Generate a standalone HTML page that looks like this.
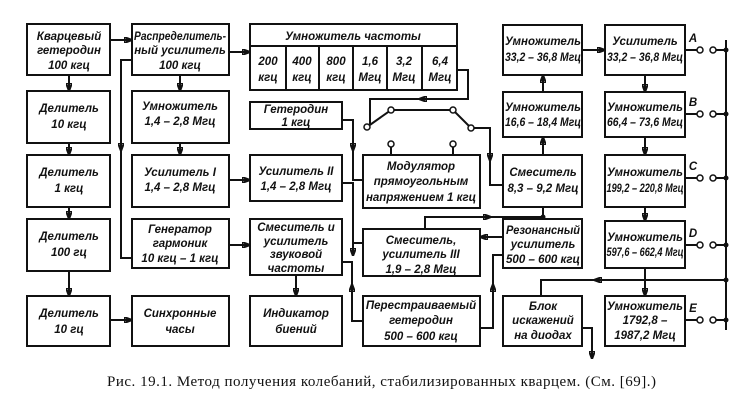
<!DOCTYPE html>
<html><head><meta charset="utf-8"><style>
body{margin:0;background:#fff}
svg{display:block}
text{font-family:"Liberation Sans","DejaVu Sans",sans-serif;font-style:italic;font-weight:bold;font-size:11.5px;fill:#111;text-anchor:middle}
.c{font-family:"Liberation Serif",serif;font-style:normal;font-weight:normal;font-size:15px;text-anchor:start}
rect{fill:#fff;stroke:#111;stroke-width:2}
line,polyline,path{stroke:#111;stroke-width:2;fill:none}
.ci{fill:#fff;stroke:#111;stroke-width:1.5}
</style></head><body>
<svg width="749" height="420" viewBox="0 0 749 420">
<defs><marker id="a" markerWidth="8" markerHeight="6" refX="7" refY="3" orient="auto" markerUnits="userSpaceOnUse"><path d="M0,0 L8,3 L0,6z" fill="#111" stroke="none"/></marker></defs>
<g marker-end="url(#a)">
<line x1="110" y1="40" x2="131" y2="40"/>
<line x1="69" y1="75" x2="69" y2="90"/>
<line x1="69" y1="143" x2="69" y2="154"/>
<line x1="69" y1="207" x2="69" y2="218"/>
<line x1="69" y1="271" x2="69" y2="295"/>
<line x1="110" y1="320" x2="131" y2="320"/>
<line x1="229" y1="52" x2="249" y2="52"/>
<line x1="180" y1="75" x2="180" y2="90"/>
<line x1="180" y1="143" x2="180" y2="154"/>
<line x1="229" y1="180" x2="249" y2="180"/>
<line x1="229" y1="245" x2="249" y2="245"/>
<line x1="296" y1="275" x2="296" y2="295"/>
<polyline points="132,60 121,60 121,150"/>
<polyline points="342,120 353,120 353,150"/>
<polyline points="342,183 353,183 353,255"/>
<polyline points="363,321 352,321 352,285"/>
<polyline points="457,70 468,70 468,99 420,99"/>
<polyline points="471,128 490,128 490,160"/>
<polyline points="425,229 425,217 490,217"/>
<line x1="503" y1="237" x2="481" y2="237"/>
<polyline points="480,328 493,328 493,285"/>
<line x1="543" y1="155" x2="543" y2="138"/>
<line x1="543" y1="92" x2="543" y2="76"/>
<line x1="582" y1="50" x2="604" y2="50"/>
<line x1="645" y1="75" x2="645" y2="91"/>
<line x1="645" y1="137" x2="645" y2="154"/>
<line x1="645" y1="207" x2="645" y2="220"/>
<line x1="645" y1="268" x2="645" y2="295"/>
<line x1="700" y1="280" x2="595" y2="280"/>
<polyline points="582,328 592,328 592,358"/>
</g>
<polyline points="121,150 121,258 132,258"/>
<polyline points="353,150 353,180 363,180"/>
<polyline points="353,255 353,243 363,243"/>
<polyline points="352,285 352,262 342,262"/>
<polyline points="420,99 370,99 370,124"/>
<polyline points="367,127 391,110 453,110 471,128"/>
<polyline points="490,160 490,185 503,185"/>
<polyline points="490,217 543,217"/>
<line x1="543" y1="207" x2="543" y2="219"/>
<polyline points="493,285 493,255 503,255"/>
<polyline points="595,280 541,280 541,296"/>
<line x1="700" y1="280" x2="726" y2="280"/>
<line x1="391" y1="147" x2="391" y2="155"/><line x1="453" y1="147" x2="453" y2="155"/>
<line x1="726" y1="40" x2="726" y2="330"/>
<g>
<line x1="685" y1="50" x2="697" y2="50"/><line x1="716" y1="50" x2="726" y2="50"/>
<line x1="685" y1="114" x2="697" y2="114"/><line x1="716" y1="114" x2="726" y2="114"/>
<line x1="685" y1="178" x2="697" y2="178"/><line x1="716" y1="178" x2="726" y2="178"/>
<line x1="685" y1="245" x2="697" y2="245"/><line x1="716" y1="245" x2="726" y2="245"/>
<line x1="685" y1="320" x2="697" y2="320"/><line x1="716" y1="320" x2="726" y2="320"/>
</g>
<g fill="#111">
<circle cx="726" cy="50" r="2.5"/><circle cx="726" cy="114" r="2.5"/><circle cx="726" cy="178" r="2.5"/><circle cx="726" cy="245" r="2.5"/><circle cx="726" cy="280" r="2.5"/><circle cx="726" cy="320" r="2.5"/><circle cx="543" cy="217" r="2.5"/>
</g>
<g>
<circle class="ci" cx="700" cy="50" r="3"/><circle class="ci" cx="713" cy="50" r="3"/>
<circle class="ci" cx="700" cy="114" r="3"/><circle class="ci" cx="713" cy="114" r="3"/>
<circle class="ci" cx="700" cy="178" r="3"/><circle class="ci" cx="713" cy="178" r="3"/>
<circle class="ci" cx="700" cy="245" r="3"/><circle class="ci" cx="713" cy="245" r="3"/>
<circle class="ci" cx="700" cy="320" r="3"/><circle class="ci" cx="713" cy="320" r="3"/>
<circle class="ci" cx="367" cy="127" r="3"/><circle class="ci" cx="391" cy="110" r="3"/><circle class="ci" cx="453" cy="110" r="3"/><circle class="ci" cx="471" cy="128" r="3"/>
<circle class="ci" cx="391" cy="144" r="3"/><circle class="ci" cx="453" cy="144" r="3"/>
</g>
<text x="693" y="42">A</text><text x="693" y="106">B</text><text x="693" y="170">C</text><text x="693" y="237">D</text><text x="693" y="312">E</text>
<rect x="27" y="24" width="83" height="51"/><text x="69" y="40">Кварцевый</text><text x="69" y="54">гетеродин</text><text x="69" y="69">100 кгц</text>
<rect x="27" y="91" width="83" height="52"/><text x="69" y="112">Делитель</text><text x="69" y="128">10 кгц</text>
<rect x="27" y="155" width="83" height="52"/><text x="69" y="176">Делитель</text><text x="69" y="192">1 кгц</text>
<rect x="27" y="219" width="83" height="52"/><text x="69" y="240">Делитель</text><text x="69" y="256">100 гц</text>
<rect x="27" y="296" width="83" height="50"/><text x="69" y="317">Делитель</text><text x="69" y="333">10 гц</text>
<rect x="132" y="24" width="97" height="51"/><text x="180" y="40" textLength="92" lengthAdjust="spacingAndGlyphs">Распределитель-</text><text x="180" y="54">ный усилитель</text><text x="180" y="69">100 кгц</text>
<rect x="132" y="91" width="97" height="52"/><text x="180" y="110">Умножитель</text><text x="180" y="125">1,4 – 2,8 Мгц</text>
<rect x="132" y="155" width="97" height="52"/><text x="180" y="176">Усилитель I</text><text x="180" y="191">1,4 – 2,8 Мгц</text>
<rect x="132" y="219" width="97" height="49"/><text x="180" y="233">Генератор</text><text x="180" y="247">гармоник</text><text x="180" y="262">10 кгц – 1 кгц</text>
<rect x="132" y="296" width="97" height="50"/><text x="180" y="317">Синхронные</text><text x="180" y="333">часы</text>
<rect x="250" y="24" width="207" height="66"/><line x1="250" y1="46" x2="457" y2="46"/>
<text x="353" y="40">Умножитель частоты</text>
<g style="stroke:#111;stroke-width:1.5"><line x1="286" y1="46" x2="286" y2="90"/><line x1="319" y1="46" x2="319" y2="90"/><line x1="353" y1="46" x2="353" y2="90"/><line x1="387" y1="46" x2="387" y2="90"/><line x1="422" y1="46" x2="422" y2="90"/></g>
<text x="268" y="65">200</text><text x="268" y="81">кгц</text>
<text x="302" y="65">400</text><text x="302" y="81">кгц</text>
<text x="336" y="65">800</text><text x="336" y="81">кгц</text>
<text x="370" y="65">1,6</text><text x="370" y="81">Мгц</text>
<text x="404" y="65">3,2</text><text x="404" y="81">Мгц</text>
<text x="440" y="65">6,4</text><text x="440" y="81">Мгц</text>
<rect x="250" y="102" width="92" height="27"/><text x="296" y="113">Гетеродин</text><text x="296" y="126">1 кгц</text>
<rect x="250" y="155" width="92" height="46"/><text x="296" y="175">Усилитель II</text><text x="296" y="190">1,4 – 2,8 Мгц</text>
<rect x="250" y="219" width="92" height="56"/><text x="296" y="231">Смеситель и</text><text x="296" y="245">усилитель</text><text x="296" y="258">звуковой</text><text x="296" y="272">частоты</text>
<rect x="250" y="296" width="92" height="50"/><text x="296" y="317">Индикатор</text><text x="296" y="333">биений</text>
<rect x="363" y="155" width="117" height="53"/><text x="421" y="170">Модулятор</text><text x="421" y="185">прямоугольным</text><text x="421" y="201">напряжением 1 кгц</text>
<rect x="363" y="229" width="117" height="47"/><text x="421" y="244">Смеситель,</text><text x="421" y="258">усилитель III</text><text x="421" y="273">1,9 – 2,8 Мгц</text>
<rect x="363" y="296" width="117" height="50"/><text x="421" y="309">Перестраиваемый</text><text x="421" y="324">гетеродин</text><text x="421" y="340">500 – 600 кгц</text>
<rect x="503" y="25" width="79" height="50"/><text x="543" y="45">Умножитель</text><text x="543" y="61" textLength="76" lengthAdjust="spacingAndGlyphs">33,2 – 36,8 Мгц</text>
<rect x="503" y="92" width="79" height="45"/><text x="543" y="111">Умножитель</text><text x="543" y="126" textLength="76" lengthAdjust="spacingAndGlyphs">16,6 – 18,4 Мгц</text>
<rect x="503" y="155" width="79" height="52"/><text x="543" y="176">Смеситель</text><text x="543" y="192">8,3 – 9,2 Мгц</text>
<rect x="503" y="219" width="79" height="49"/><text x="543" y="234" textLength="74" lengthAdjust="spacingAndGlyphs">Резонансный</text><text x="543" y="248">усилитель</text><text x="543" y="263" textLength="74" lengthAdjust="spacingAndGlyphs">500 – 600 кгц</text>
<rect x="503" y="296" width="79" height="50"/><text x="543" y="310">Блок</text><text x="543" y="324">искажений</text><text x="543" y="339">на диодах</text>
<rect x="605" y="25" width="80" height="50"/><text x="645" y="45">Усилитель</text><text x="645" y="61" textLength="76" lengthAdjust="spacingAndGlyphs">33,2 – 36,8 Мгц</text>
<rect x="605" y="92" width="80" height="45"/><text x="645" y="111">Умножитель</text><text x="645" y="126" textLength="76" lengthAdjust="spacingAndGlyphs">66,4 – 73,6 Мгц</text>
<rect x="605" y="155" width="80" height="52"/><text x="645" y="176">Умножитель</text><text x="645" y="192" textLength="77" lengthAdjust="spacingAndGlyphs">199,2 – 220,8 Мгц</text>
<rect x="605" y="221" width="80" height="47"/><text x="645" y="241">Умножитель</text><text x="645" y="256" textLength="77" lengthAdjust="spacingAndGlyphs">597,6 – 662,4 Мгц</text>
<rect x="605" y="296" width="80" height="50"/><text x="645" y="310">Умножитель</text><text x="645" y="324">1792,8 –</text><text x="645" y="339">1987,2 Мгц</text>
<text class="c" x="107" y="386" textLength="549" lengthAdjust="spacing">Рис. 19.1. Метод получения колебаний, стабилизированных кварцем. (См. [69].)</text>
</svg>
</body></html>
